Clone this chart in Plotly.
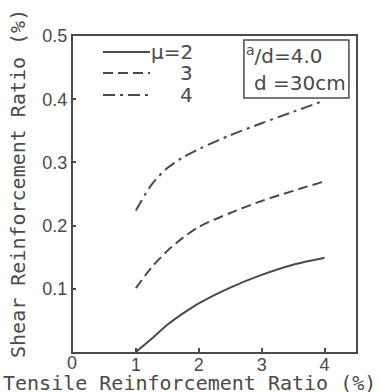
import plotly.graph_objects as go

# Data
tensile_ratio = [1.0, 1.25, 1.5, 1.75, 2.0, 2.5, 3.0, 3.5, 4.0]
shear_mu2 = [0.0, 0.021, 0.043, 0.061, 0.077, 0.102, 0.122, 0.138, 0.149]
shear_mu3 = [0.101, 0.134, 0.160, 0.181, 0.198, 0.220, 0.239, 0.255, 0.270]
shear_mu4 = [0.224, 0.265, 0.291, 0.308, 0.321, 0.343, 0.362, 0.380, 0.398]
series_names = ["μ=2", "3", "4"]
x_ticks = [1, 2, 3, 4]
y_ticks = [0.1, 0.2, 0.3, 0.4, 0.5]
y_tick_text = ["0.1", "0.2", "0.3", "0.4", "0.5"]

ink = "#4a4a4a"
dashes = ["solid", "10px,5px", "12px,5px,3px,5px"]
series = [shear_mu2, shear_mu3, shear_mu4]
axis_refs = ["x2", "x", "x"]

fig = go.Figure()
for name, ys, dash, xr in zip(series_names, series, dashes, axis_refs):
    fig.add_trace(go.Scatter(x=tensile_ratio, y=ys, mode="lines", name=name, showlegend=False,
                             xaxis=xr, yaxis="y",
                             line=dict(color=ink, width=2, dash=dash, shape="spline", smoothing=0.8)))

fig.update_layout(
    width=381, height=392,
    margin=dict(l=73, r=25, t=36, b=40, autoexpand=False),
    paper_bgcolor="white", plot_bgcolor="white",
    showlegend=False,
    xaxis=dict(range=[0, 4.5], tickvals=x_ticks, showticklabels=False,
               automargin=False,
               showgrid=False, zeroline=False, showline=True, linecolor=ink, linewidth=2,
               mirror=True, ticks="inside", ticklen=4, tickcolor=ink, tickwidth=1.5),
    # label-only companion axis sharing the same scale
    xaxis2=dict(range=[0, 4.5], matches="x", overlaying="x", anchor="free", position=0.0,
                tickvals=x_ticks, ticktext=[str(v) for v in x_ticks],
                automargin=False, showgrid=False, zeroline=False, showline=False, ticks="",
                ticklabelstandoff=0,
                tickfont=dict(family="Liberation Sans", size=18, color=ink)),
    yaxis=dict(range=[0, 0.5], tickvals=y_ticks, ticktext=y_tick_text,
               automargin=False,
               showgrid=False, zeroline=False, showline=True, linecolor=ink, linewidth=2,
               mirror=True, ticks="inside", ticklen=3, tickcolor=ink, tickwidth=1.5,
               ticklabelstandoff=0,
               tickfont=dict(family="Liberation Sans", size=18, color=ink)),
)

# axis origin label
fig.add_annotation(xref="paper", yref="paper", x=-0.028, y=-0.035, yanchor="middle",
                   text="0", showarrow=False,
                   font=dict(family="Liberation Sans", size=18, color=ink))

# axis titles
fig.add_annotation(xref="paper", yref="paper", x=0.413, y=-0.098, yanchor="middle",
                   text="Tensile Reinforcement Ratio (%)", showarrow=False,
                   font=dict(family="DejaVu Sans Mono", size=20, color=ink))
fig.add_annotation(xref="paper", yref="paper", x=-0.194, y=0.532, xanchor="center",
                   yanchor="middle", textangle=-90,
                   text="Shear Reinforcement Ratio (%)", showarrow=False,
                   font=dict(family="DejaVu Sans Mono", size=20, color=ink))

# legend key
legend_y = [0.949, 0.883, 0.813]
for name, dash, ly in zip(series_names, dashes, legend_y):
    fig.add_shape(type="line", xref="paper", yref="paper", x0=0.106, x1=0.272, y0=ly, y1=ly,
                  line=dict(color=ink, width=2, dash=dash))
    fig.add_annotation(xref="paper", yref="paper", x=0.431, y=ly, xanchor="right",
                       yanchor="middle", text=name, showarrow=False,
                       font=dict(family="DejaVu Sans", size=20, color=ink))

# parameter box
fig.add_shape(type="rect", xref="paper", yref="paper", x0=0.604, x1=0.975, y0=0.804, y1=0.987,
              line=dict(color=ink, width=1.5))
fig.add_annotation(xref="paper", yref="paper", x=0.605, y=0.940, xanchor="left", yanchor="middle",
                   text="<sup>a</sup>/d=4.0", showarrow=False,
                   font=dict(family="DejaVu Sans", size=20, color=ink))
fig.add_annotation(xref="paper", yref="paper", x=0.972, y=0.851, xanchor="right", yanchor="middle",
                   text="d =30cm", showarrow=False,
                   font=dict(family="DejaVu Sans", size=20, color=ink))

fig.write_html("out.html", config={"displayModeBar": False},
               post_script="document.body.style.margin='0';document.body.style.overflow='hidden';")
